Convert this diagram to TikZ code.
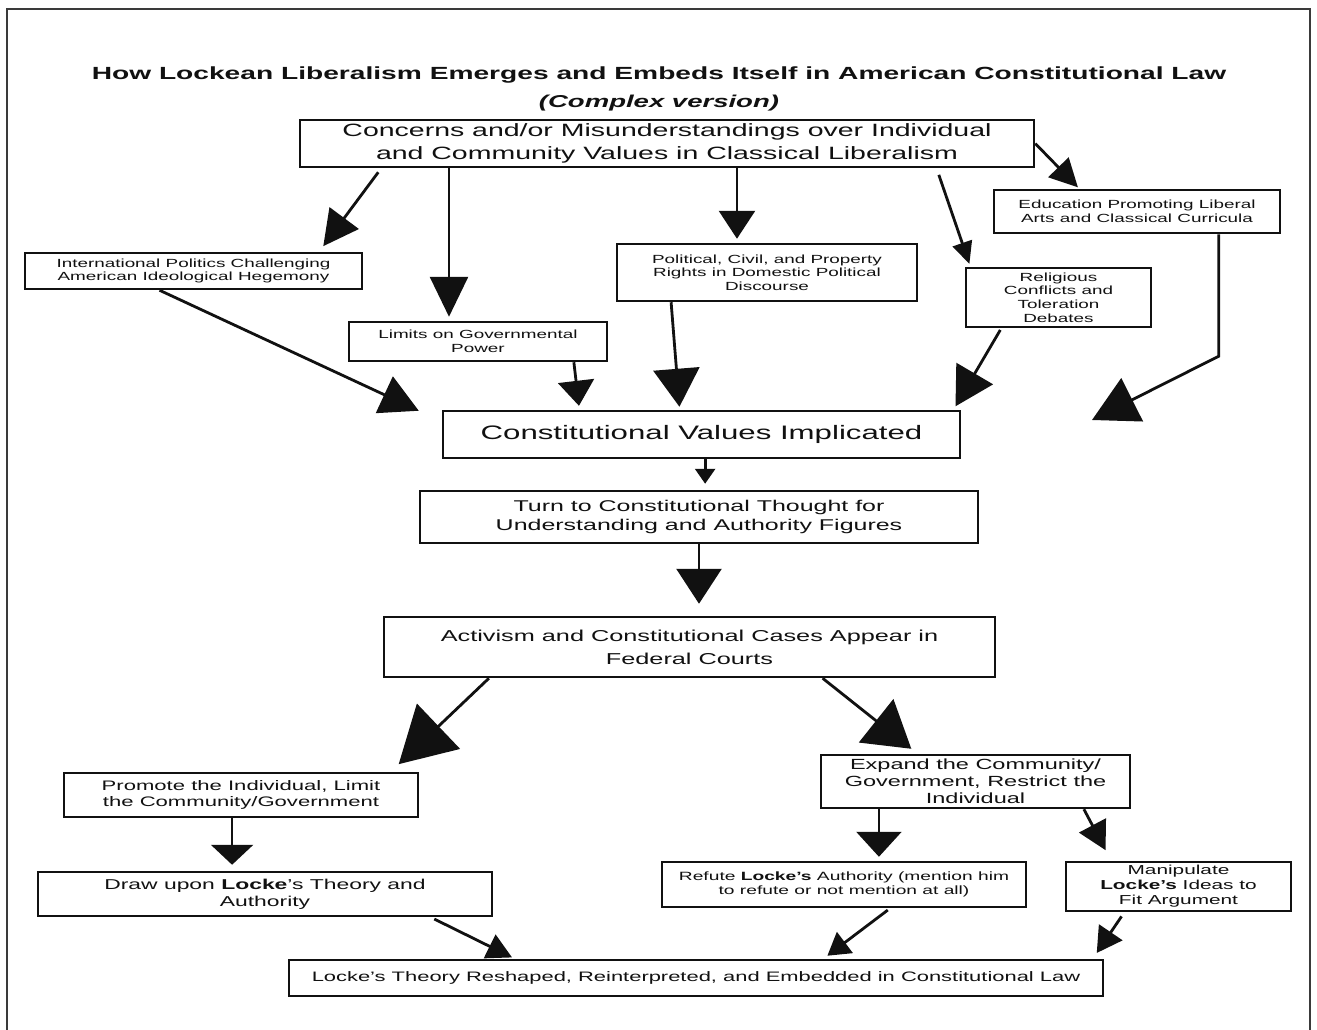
\documentclass[tikz,border=0pt]{standalone}
\usepackage{fontspec}
\setmainfont{Liberation Sans}[FakeStretch=1.6]
\usetikzlibrary{arrows.meta,positioning,calc}
\definecolor{ink}{HTML}{111111}
\definecolor{framegray}{HTML}{3A3A3A}

\begin{document}
\begin{tikzpicture}[x=1pt, y=-1pt,
  box/.style={draw=ink, line width=2.5pt, fill=white, align=center,
              inner sep=0pt, text=ink},
  fs/.style 2 args={font=\fontsize{#1}{#2}\selectfont},
  arr/.style 2 args={draw=ink, line width=2.8pt,
              -{Triangle[length=#1pt, width=#2pt]}}
]
\useasboundingbox (0,0) rectangle (1317,1030);
\draw[framegray, line width=2pt] (7,1040) -- (7,9) -- (1310,9) -- (1310,1040);

\node[fs={17.6}{20}, text=ink] (title) at (659,75)
  {\bfseries How Lockean Liberalism Emerges and Embeds Itself in American Constitutional Law};
\node[fs={17.2}{19}, text=ink] (subtitle) at (659,103) {\bfseries\itshape (Complex version)};

\node[box, fs={17.8}{23}, minimum width=734pt, minimum height=47pt] (concerns) at (667,143.5)
  {Concerns and/or Misunderstandings over Individual\\and Community Values in Classical Liberalism};
\node[box, fs={11.8}{14}, minimum width=286pt, minimum height=43pt] (edu) at (1137,211.5)
  {Education Promoting Liberal\\Arts and Classical Curricula};
\node[box, fs={11.8}{13}, minimum width=337pt, minimum height=36pt] (intl) at (193.5,271)
  {International Politics Challenging\\American Ideological Hegemony};
\node[box, fs={11.8}{14}, minimum width=258pt, minimum height=39pt] (limits) at (478,341.5)
  {Limits on Governmental\\Power};
\node[box, fs={11.8}{13.5}, minimum width=300pt, minimum height=57pt] (political) at (767,272.5)
  {Political, Civil, and Property\\Rights in Domestic Political\\Discourse};
\node[box, fs={11.8}{13.8}, minimum width=185pt, minimum height=59pt] (religious) at (1058.5,297.5)
  {Religious\\Conflicts and\\Toleration\\Debates};
\node[box, fs={19.5}{22}, minimum width=517pt, minimum height=47pt] (values) at (701.5,434.5)
  {Constitutional Values Implicated};
\node[box, fs={15.6}{19}, minimum width=558pt, minimum height=52pt] (turn) at (699,517)
  {Turn to Constitutional Thought for\\Understanding and Authority Figures};
\node[box, fs={15.8}{23}, minimum width=611pt, minimum height=60pt] (activism) at (689.5,647)
  {Activism and Constitutional Cases Appear in\\Federal Courts};
\node[box, fs={13.8}{16}, minimum width=354pt, minimum height=44pt] (promote) at (241,795)
  {Promote the Individual, Limit\\the Community/Government};
\node[box, fs={14.7}{17}, minimum width=309pt, minimum height=53pt] (expand) at (975.5,781.5)
  {Expand the Community/\\Government, Restrict the\\Individual};
\node[box, fs={14.3}{17}, minimum width=454pt, minimum height=44pt] (drawupon) at (265,894)
  {Draw upon \textbf{Locke}’s Theory and\\Authority};
\node[box, fs={12}{14}, minimum width=364pt, minimum height=45pt] (refute) at (844,884.5)
  {Refute \textbf{Locke’s} Authority (mention him\\to refute or not mention at all)};
\node[box, fs={13}{15}, minimum width=225pt, minimum height=49pt] (manip) at (1178.5,886.5)
  {Manipulate\\\textbf{Locke’s} Ideas to\\Fit Argument};
\node[box, fs={13.7}{16}, minimum width=814pt, minimum height=36pt] (locke) at (696,978)
  {Locke’s Theory Reshaped, Reinterpreted, and Embedded in Constitutional Law};

\path (concerns.south west) -- (concerns.south east)
  coordinate[pos=.112] (c1) coordinate[pos=.204] (c2)
  coordinate[pos=.595] (c3) coordinate[pos=.866] (c4);
\coordinate (v1) at ($(values.south west)!.507!(values.south east)$);
\coordinate (p1) at ($(promote.south west)!.475!(promote.south east)$);
\coordinate (x1) at ($(expand.south west)!.19!(expand.south east)$);
\coordinate (eduend) at (1092,420);

\draw[arr={35}{36}, shorten <=5pt, shorten >=7pt] (c1) -- ($(intl.north west)!.87!(intl.north east)$);
\draw[arr={40}{38}, shorten >=4pt] (c2) -- (c2 |- limits.north);
\draw[arr={28}{36}, shorten >=4pt] (c3) -- (c3 |- political.north);
\draw[arr={22}{20}, shorten <=7pt, shorten >=3pt] (c4) -- ($(religious.north west)!.03!(religious.north east)$);
\draw[arr={28}{28}, shorten >=2pt] (concerns.east) -- ($(edu.north west)!.30!(edu.north east)$);
\draw[arr={45}{48}] ($(edu.south west)!.783!(edu.south east)$) -- ++(0,122) -- (eduend);
\draw[arr={38}{40}] ($(intl.south west)!.40!(intl.south east)$) -- ($(values.north west)+(-23,1)$);
\draw[arr={25}{36}, shorten >=4pt] ($(limits.south west)!.868!(limits.south east)$) -- ($(values.north west)!.265!(values.north east)$);
\draw[arr={38}{46}, shorten >=3pt] ($(political.south west)!.183!(political.south east)$) -- ($(values.north west)!.458!(values.north east)$);
\draw[arr={38}{42}, shorten <=2pt, shorten >=4pt] ($(religious.south west)!.195!(religious.south east)$) -- ($(values.north west)!.985!(values.north east)$);
\draw[arr={15}{20}, shorten >=6pt] (v1) -- (v1 |- turn.north);
\draw[arr={35}{45}, shorten >=12pt] (turn.south) -- (turn.south |- activism.north);
\draw[arr={55}{62}, shorten >=11pt] ($(activism.south west)!.173!(activism.south east)$) -- ($(promote.north west)!.92!(promote.north east)$);
\draw[arr={45}{55}, shorten >=8pt] ($(activism.south west)!.717!(activism.south east)$) -- ($(expand.north west)!.314!(expand.north east)$);
\draw[arr={20}{42}, shorten >=6pt] (p1) -- (p1 |- drawupon.north);
\draw[arr={25}{45}, shorten >=4pt] (x1) -- (x1 |- refute.north);
\draw[arr={28}{30}, shorten >=12pt] ($(expand.south west)!.848!(expand.south east)$) -- ($(manip.north west)!.204!(manip.north east)$);
\draw[arr={25}{26}, shorten <=4pt, shorten >=3pt] ($(drawupon.south west)!.863!(drawupon.south east)$) -- ($(locke.north west)!.278!(locke.north east)$);
\draw[arr={22}{26}, shorten <=3pt, shorten >=5pt] ($(refute.south west)!.626!(refute.south east)$) -- ($(locke.north west)!.656!(locke.north east)$);
\draw[arr={25}{28}, shorten <=5pt, shorten >=7pt] ($(manip.south west)!.262!(manip.south east)$) -- ($(locke.north west)!.986!(locke.north east)$);
\end{tikzpicture}
\end{document}
